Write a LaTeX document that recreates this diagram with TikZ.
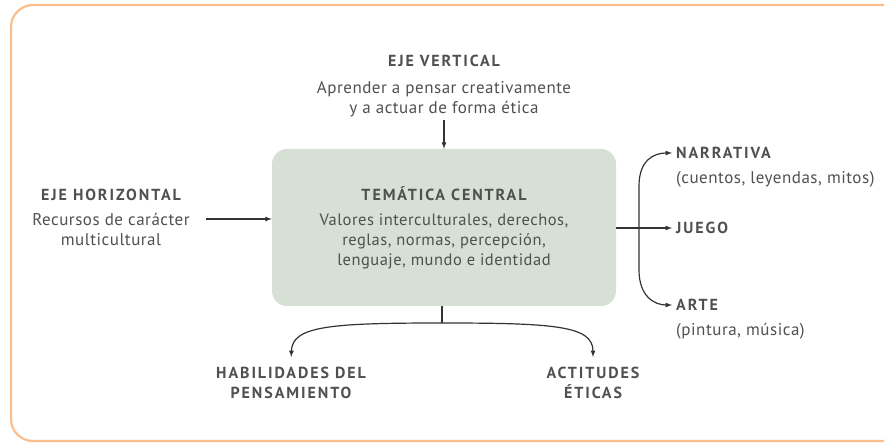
\documentclass[tikz,border=0pt]{standalone}
\usepackage{fontspec}
\setmainfont{PT Sans}[LetterSpace=3]
\usetikzlibrary{arrows}
\definecolor{txtgray}{HTML}{505050}
\definecolor{linegray}{HTML}{333333}
\definecolor{boxgreen}{HTML}{D6E0D5}
\definecolor{frameorange}{HTML}{FBBE8C}
\newfontfamily\headfont[LetterSpace=12]{PT Sans}
\tikzset{
  head/.style={font=\fontsize{16}{20}\selectfont\headfont\bfseries, text=txtgray, inner sep=0pt, align=center},
  body/.style={font=\fontsize{17}{20}\selectfont, text=txtgray, inner sep=0pt, align=center},
  tema/.style={fill=boxgreen, rounded corners=15pt, minimum width=344pt, minimum height=157pt,
    text=txtgray, align=center, font=\fontsize{16.5}{20}\selectfont},
  arr/.style={-latex, draw=linegray, line width=1.2pt},
  plain/.style={draw=linegray, line width=1.2pt},
}

\begin{document}
\begin{tikzpicture}[x=1pt,y=-1pt]
 \useasboundingbox (0,0) rectangle (884,443);
 \draw[frameorange, line width=2.2pt, rounded corners=22pt] (884,5) -| (11,441) -- (884,441);

 \node[tema] (tema) at (444,227.5) {{\headfont\bfseries\fontsize{16}{20}\selectfont TEMÁTICA CENTRAL}\\[5pt]
   Valores interculturales, derechos,\\reglas, normas, percepción,\\lenguaje, mundo e identidad};

 \node[head] (vhead) at (444,61) {EJE VERTICAL};
 \node[body, anchor=north] (vtxt) at (444,81) {Aprender a pensar creativamente\\y a actuar de forma ética};

 \node[head] (hhead) at (111,195) {EJE HORIZONTAL};
 \node[body, anchor=north] (htxt) at (111,213) {Recursos de carácter\\multicultural};

 \node[head, anchor=west] (narr) at (676,153) {NARRATIVA};
 \node[body, anchor=north west] (narrtxt) at (676,171) {(cuentos, leyendas, mitos)};
 \node[head, anchor=west] (juego) at (676,228) {JUEGO};
 \node[head, anchor=west] (arte) at (676,305) {ARTE};
 \node[body, anchor=north west] (artetxt) at (676,323) {(pintura, música)};

 \node[head] (hab) at (291,383) {HABILIDADES DEL\\PENSAMIENTO};
 \node[head] (act) at (593,383) {ACTITUDES\\ÉTICAS};

 \coordinate (hin) at (206,219);
 \coordinate (rj) at (639,228);
 \coordinate (bj) at (442,323);

% top and left inputs
 \draw[arr] ([yshift=-3pt]vtxt.south) -- (tema.north);
 \draw[arr] (hin) -- (hin -| tema.west);

% right branch
 \draw[arr, shorten >=4pt] (tema.east |- juego) -- (juego.west);
 \draw[arr, shorten >=4pt] (rj) -- ++(0,-42) .. controls +(0,-26) and +(-22,0) .. (narr.west);
 \draw[arr, shorten >=4pt] (rj) -- ++(0,42) .. controls +(0,26) and +(-22,0) .. (arte.west);

% bottom branch
 \draw[plain] (tema.south -| bj) -- (bj);
 \draw[arr, shorten >=10pt] (bj) .. controls (330,323) and (292,326) .. (hab.north);
 \draw[arr, shorten >=10pt] (bj) .. controls (556,323) and (593,326) .. (act.north);

\end{tikzpicture}
\end{document}
